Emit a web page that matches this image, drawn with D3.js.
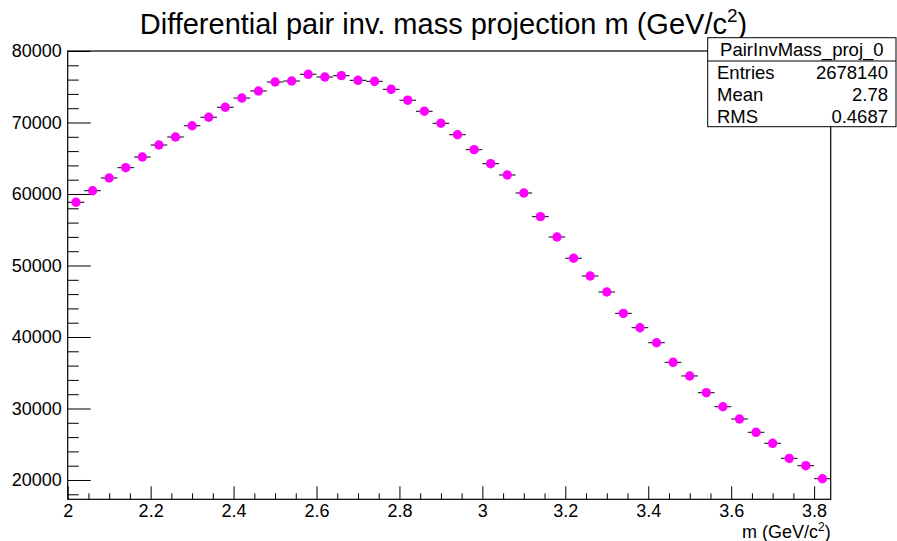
<!DOCTYPE html>
<html>
<head>
<meta charset="utf-8">
<script src="https://cdn.jsdelivr.net/npm/d3@7"></script>
<style>
  body { margin: 0; background: #fff; }
  svg { display: block; font-family: "Liberation Sans", Arial, sans-serif; }
</style>
</head>
<body>
<div id="chart"></div>
<script>
// bin centers of the histogram (width 0.04)
var binCenters = [2.02, 2.06, 2.10, 2.14, 2.18, 2.22, 2.26, 2.30, 2.34, 2.38,
                  2.42, 2.46, 2.50, 2.54, 2.58, 2.62, 2.66, 2.70, 2.74, 2.78,
                  2.82, 2.86, 2.90, 2.94, 2.98, 3.02, 3.06, 3.10, 3.14, 3.18,
                  3.22, 3.26, 3.30, 3.34, 3.38, 3.42, 3.46, 3.50, 3.54, 3.58,
                  3.62, 3.66, 3.70, 3.74, 3.78, 3.82];
var counts = [58840, 60460, 62240, 63680, 65170, 66850, 67970, 69550, 70730, 72130,
              73420, 74410, 75660, 75800, 76740, 76360, 76550, 75900, 75760, 74640,
              73120, 71570, 69890, 68290, 66200, 64240, 62660, 60140, 56830, 53990,
              51010, 48530, 46290, 43310, 41300, 39200, 36460, 34550, 32210, 30250,
              28530, 26670, 25130, 23030, 22000, 20180];
var binHalfWidth = 0.02;

var xMajorTicks = [2, 2.2, 2.4, 2.6, 2.8, 3, 3.2, 3.4, 3.6, 3.8];
var yMajorTicks = [20000, 30000, 40000, 50000, 60000, 70000, 80000];

var statName = "PairInvMass_proj_0";
var statLabels = ["Entries", "Mean", "RMS"];
var statValues = ["2678140", "2.78", "0.4687"];

var W = 897, H = 541;
var frame = { left: 67.7, top: 51, right: 830.7, bottom: 499.3 };

var svg = d3.select("#chart").append("svg")
    .attr("width", W).attr("height", H);

var x = d3.scaleLinear().domain([2, 3.84]).range([frame.left, frame.right]);
var y = d3.scaleLinear().domain([17300, 80000]).range([frame.bottom, frame.top]);

// minor ticks
var xMinor = d3.range(0, 37).map(function(i) { return +(2 + i * 0.05).toFixed(2); })
    .filter(function(v) { return xMajorTicks.indexOf(v) < 0; });
var yMinor = d3.range(18000, 80001, 2000)
    .filter(function(v) { return yMajorTicks.indexOf(v) < 0; });

// x axis
svg.append("g")
    .attr("transform", "translate(0," + frame.bottom + ")")
    .call(d3.axisBottom(x).tickValues(xMinor).tickSizeInner(-6).tickSizeOuter(0).tickFormat(""))
    .call(function(g) { g.select(".domain").remove(); });
var xa = svg.append("g")
    .attr("transform", "translate(0," + frame.bottom + ")")
    .call(d3.axisBottom(x).tickValues(xMajorTicks).tickSizeInner(-13).tickSizeOuter(0)
        .tickPadding(5).tickFormat(d3.format("")));
xa.select(".domain").remove();
xa.selectAll("text").attr("font-size", 18).attr("fill", "#000")
    .attr("font-family", "Liberation Sans, Arial, sans-serif");

// y axis
svg.append("g")
    .attr("transform", "translate(" + frame.left + ",0)")
    .call(d3.axisLeft(y).tickValues(yMinor).tickSizeInner(-11).tickSizeOuter(0).tickFormat(""))
    .call(function(g) { g.select(".domain").remove(); });
var ya = svg.append("g")
    .attr("transform", "translate(" + frame.left + ",0)")
    .call(d3.axisLeft(y).tickValues(yMajorTicks).tickSizeInner(-23).tickSizeOuter(0)
        .tickPadding(6).tickFormat(d3.format("d")));
ya.select(".domain").remove();
ya.selectAll("text").attr("font-size", 18).attr("fill", "#000")
    .attr("font-family", "Liberation Sans, Arial, sans-serif");

svg.selectAll(".tick line").attr("stroke", "#000").attr("stroke-width", 1);

// frame
svg.append("rect")
    .attr("x", frame.left).attr("y", frame.top)
    .attr("width", frame.right - frame.left).attr("height", frame.bottom - frame.top)
    .attr("fill", "none").attr("stroke", "#000").attr("stroke-width", 1.2);

// error bars
var pts = binCenters.map(function(c, i) { return { x: c, n: counts[i] }; });
svg.selectAll(".xerr").data(pts).enter().append("line")
    .attr("class", "xerr")
    .attr("x1", function(d) { return x(d.x - binHalfWidth); })
    .attr("x2", function(d) { return x(d.x + binHalfWidth); })
    .attr("y1", function(d) { return y(d.n); })
    .attr("y2", function(d) { return y(d.n); })
    .attr("stroke", "#000").attr("stroke-width", 1);
svg.selectAll(".yerr").data(pts).enter().append("line")
    .attr("class", "yerr")
    .attr("x1", function(d) { return x(d.x); })
    .attr("x2", function(d) { return x(d.x); })
    .attr("y1", function(d) { return y(d.n - Math.sqrt(d.n)); })
    .attr("y2", function(d) { return y(d.n + Math.sqrt(d.n)); })
    .attr("stroke", "#000").attr("stroke-width", 1);

// markers
svg.selectAll(".pt").data(pts).enter().append("circle")
    .attr("class", "pt")
    .attr("cx", function(d) { return x(d.x); })
    .attr("cy", function(d) { return y(d.n); })
    .attr("r", 4.7)
    .attr("fill", "#ff00ff");

// title
var title = svg.append("text")
    .attr("x", 443.5).attr("y", 33.5)
    .attr("text-anchor", "middle")
    .attr("font-size", 29)
    .attr("fill", "#000");
title.append("tspan").text("Differential pair inv. mass projection m (GeV/c");
title.append("tspan").attr("dy", -12).attr("font-size", 19).text("2");
title.append("tspan").attr("dy", 12).text(")");

// x axis title
var xt = svg.append("text")
    .attr("x", frame.right).attr("y", 537.5)
    .attr("text-anchor", "end")
    .attr("font-size", 18)
    .attr("fill", "#000");
xt.append("tspan").text("m (GeV/c");
xt.append("tspan").attr("dy", -7).attr("font-size", 12).text("2");
xt.append("tspan").attr("dy", 7).text(")");

// stats box
var box = { left: 707.7, top: 37.7, right: 896, bottom: 126.7, sep: 61 };
svg.append("rect")
    .attr("x", box.left).attr("y", box.top)
    .attr("width", box.right - box.left).attr("height", box.bottom - box.top)
    .attr("fill", "#fff").attr("stroke", "#000").attr("stroke-width", 1);
svg.append("line")
    .attr("x1", box.left).attr("x2", box.right)
    .attr("y1", box.sep).attr("y2", box.sep)
    .attr("stroke", "#000").attr("stroke-width", 1);
svg.append("text")
    .attr("x", (box.left + box.right) / 2).attr("y", 55.5)
    .attr("text-anchor", "middle").attr("font-size", 18.5).attr("fill", "#000")
    .text(statName);
svg.selectAll(".slab").data(statLabels).enter().append("text")
    .attr("class", "slab")
    .attr("x", 717).attr("y", function(d, i) { return 78.5 + i * 22; })
    .attr("font-size", 18.5).attr("fill", "#000")
    .text(function(d) { return d; });
svg.selectAll(".sval").data(statValues).enter().append("text")
    .attr("class", "sval")
    .attr("x", 888).attr("y", function(d, i) { return 78.5 + i * 22; })
    .attr("text-anchor", "end")
    .attr("font-size", 18.5).attr("fill", "#000")
    .text(function(d) { return d; });
</script>
</body>
</html>
